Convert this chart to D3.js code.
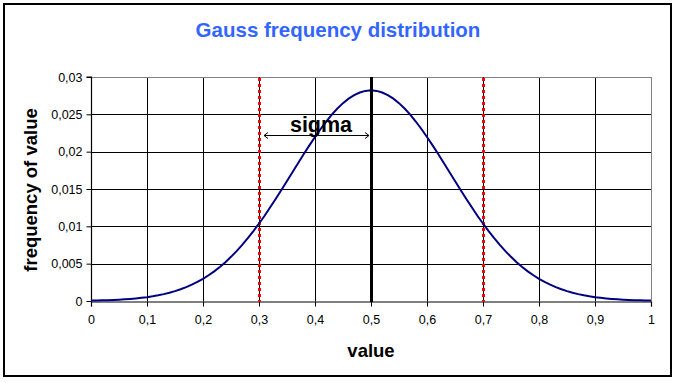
<!DOCTYPE html>
<html><head><meta charset="utf-8">
<script src="https://cdn.jsdelivr.net/npm/d3@7"></script>
<style>html,body{margin:0;padding:0;background:#fff;}svg{display:block;font-family:Arial,"Liberation Sans",sans-serif;}</style>
</head><body>
<svg id="c" width="679" height="383"></svg>
<script>
// x values 0..1 step 0.01 (categories)
const xValues = d3.range(101).map(i => +(i / 100).toFixed(2));
// frequency values (symmetric about 0.5)
const halfFreq = [0.0000544,0.0000698,0.0000889,0.000113,0.000142,0.000179,0.000223,0.000277,0.000343,0.000422,
  0.000517,0.000629,0.000763,0.000920,0.001105,0.001319,0.001568,0.001854,0.002181,0.002553,
  0.002973,0.003446,0.003973,0.004559,0.005205,0.005913,0.006684,0.007517,0.008412,0.009367,
  0.010378,0.011415,0.012549,0.013696,0.014874,0.016073,0.017282,0.018488,0.019681,0.020846,
  0.021969,0.023038,0.024038,0.024957,0.025781,0.026500,0.027103,0.027581,0.027928,0.028139,
  0.028209];
const freqValues = halfFreq.concat(halfFreq.slice(0, 50).reverse());
const xTicks = [0,0.1,0.2,0.3,0.4,0.5,0.6,0.7,0.8,0.9,1];
const yTicks = [0,0.005,0.01,0.015,0.02,0.025,0.03];
const sigmaLines = [0.3, 0.7];
const meanLine = [0.5];

const svg = d3.select("#c");
const x = d3.scaleLinear().domain([0,1]).range([91,651]);
const y = d3.scaleLinear().domain([0,0.03]).range([301,77]);
const fmt = d => String(d).replace(".", ",");

// outer border
svg.append("rect").attr("x",4).attr("y",4).attr("width",667).attr("height",372)
  .attr("fill","#fff").attr("stroke","#000").attr("stroke-width",2);

// title
svg.append("text").attr("x",338).attr("y",37).attr("text-anchor","middle")
  .attr("font-size",20.5).attr("font-weight","bold").attr("fill","#3366ff")
  .text("Gauss frequency distribution");

// gridlines
svg.append("g").selectAll("line").data(yTicks.filter(v => v > 0 && v < 0.03)).join("line")
  .attr("x1",x(0)).attr("x2",x(1)).attr("y1",d=>Math.round(y(d))+0.5).attr("y2",d=>Math.round(y(d))+0.5)
  .attr("stroke","#000").attr("stroke-width",1);
svg.append("g").selectAll("line").data(xTicks.filter(v => v > 0 && v < 1)).join("line")
  .attr("y1",y(0)).attr("y2",y(0.03)).attr("x1",d=>Math.round(x(d))+0.5).attr("x2",d=>Math.round(x(d))+0.5)
  .attr("stroke","#000").attr("stroke-width",1);
// plot top/right border gray
svg.append("line").attr("x1",x(0)).attr("x2",x(1)+0.5).attr("y1",y(0.03)+0.5).attr("y2",y(0.03)+0.5).attr("stroke","#808080");
svg.append("line").attr("x1",x(1)+0.5).attr("x2",x(1)+0.5).attr("y1",y(0.03)).attr("y2",y(0)).attr("stroke","#808080");

// axes
const yAxis = svg.append("g").attr("transform",`translate(${x(0)+0.5},0)`)
  .call(d3.axisLeft(y).tickValues(yTicks).tickFormat(fmt).tickSize(5).tickPadding(4));
const xAxis = svg.append("g").attr("transform",`translate(0,${y(0)+0.5})`)
  .call(d3.axisBottom(x).tickValues(xTicks).tickFormat(fmt).tickSize(5).tickPadding(9));
[yAxis, xAxis].forEach(g => {
  g.selectAll("path.domain").attr("stroke","#000").attr("stroke-width",1.2);
  g.selectAll(".tick line").attr("stroke","#000");
  g.selectAll(".tick text").attr("font-size",12.5).attr("fill","#000").attr("font-family","Arial, 'Liberation Sans', sans-serif");
});
yAxis.select("path.domain").attr("d", `M-5,${y(0.03)}H0V${y(0)}`);

// sigma lines (black thin + red dots)
const sg = svg.append("g");
sg.selectAll("line.b").data(sigmaLines).join("line").attr("class","b")
  .attr("x1",d=>Math.round(x(d))+0.5).attr("x2",d=>Math.round(x(d))+0.5).attr("y1",y(0.03)).attr("y2",y(0))
  .attr("stroke","#000").attr("stroke-width",1);
sg.selectAll("line.r").data(sigmaLines).join("line").attr("class","r")
  .attr("x1",d=>Math.round(x(d))+0.5).attr("x2",d=>Math.round(x(d))+0.5).attr("y1",y(0.03)+1).attr("y2",y(0)+1)
  .attr("stroke","#ff0000").attr("stroke-width",3).attr("stroke-dasharray","3,3");

// curve
svg.append("path").datum(xValues.map((v,i)=>[v,freqValues[i]]))
  .attr("d", d3.line().x(d=>x(d[0])).y(d=>y(d[1])))
  .attr("fill","none").attr("stroke","#000080").attr("stroke-width",2);

// mean line
svg.selectAll("line.m").data(meanLine).join("line").attr("class","m")
  .attr("x1",d=>x(d)+0.5).attr("x2",d=>x(d)+0.5).attr("y1",y(0.03)).attr("y2",y(0)+1)
  .attr("stroke","#000").attr("stroke-width",3);

// sigma annotation
const ay = 135.5;
const ax1 = x(0.3)+5, ax2 = x(0.5)-2;
svg.append("line").attr("x1",ax1).attr("x2",ax2).attr("y1",ay).attr("y2",ay).attr("stroke","#000").attr("stroke-width",1);
svg.append("path").attr("d",`M${ax1+4},${ay-3}L${ax1},${ay}L${ax1+4},${ay+3}`).attr("fill","none").attr("stroke","#000");
svg.append("path").attr("d",`M${ax2-4},${ay-3}L${ax2},${ay}L${ax2-4},${ay+3}`).attr("fill","none").attr("stroke","#000");
svg.append("text").attr("x",321).attr("y",132).attr("text-anchor","middle")
  .attr("font-size",21.5).attr("font-weight","bold").attr("fill","#000").text("sigma");

// axis titles
svg.append("text").attr("x",371).attr("y",357).attr("text-anchor","middle")
  .attr("font-size",18.5).attr("font-weight","bold").attr("fill","#000").text("value");
svg.append("text").attr("transform","translate(37,190) rotate(-90)").attr("text-anchor","middle")
  .attr("font-size",18.5).attr("font-weight","bold").attr("fill","#000").text("frequency of value");
</script>
</body></html>
